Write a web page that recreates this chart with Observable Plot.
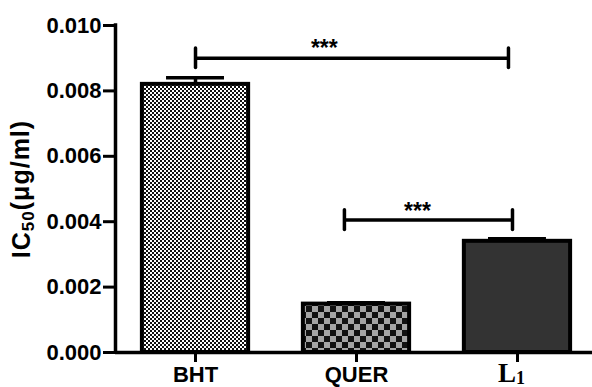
<!DOCTYPE html>
<html>
<head>
<meta charset="utf-8">
<script src="https://cdn.jsdelivr.net/npm/d3@7"></script>
<script src="https://cdn.jsdelivr.net/npm/@observablehq/plot@0.6"></script>
<style>
  html, body { margin: 0; padding: 0; background: #fff; }
</style>
</head>
<body>
<div id="chart"></div>
<script>
// IC50 of the three antioxidants (mean ± SEM)
const groups = ["BHT", "QUER", "L1"];
const ic50 = [0.0082, 0.00148, 0.0034];
const sem = [0.0002, 0.00004, 0.00008];
const yTicks = [0, 0.002, 0.004, 0.006, 0.008, 0.010];

// significance brackets (x in category units, y in µg/ml)
const bracketFrom = [0, 0.925];
const bracketTo = [1.944, 1.969];
const bracketLevel = [0.009, 0.00405];
const starX = [0.80, 1.379];
const starY = [0.00928, 0.00432];
const starText = ["***", "***"];

const bars = groups.map((g, i) => ({i, group: g, mean: ic50[i], err: sem[i]}));
const brackets = bracketFrom.map((x1, k) => ({x1, x2: bracketTo[k], y: bracketLevel[k]}));
const bracketEnds = brackets.flatMap(b => [{x: b.x1, y: b.y}, {x: b.x2, y: b.y}]);
const stars = starText.map((t, k) => ({x: starX[k], y: starY[k], t}));

const fills = {BHT: "url(#chk-fine)", QUER: "url(#chk-coarse)", L1: "#333333"};
const half = 0.33, capHalf = 0.18, endHalf = 0.0003;

const chart = Plot.plot({
  width: 592,
  height: 387,
  marginLeft: 115,
  marginRight: 0,
  marginTop: 25,
  marginBottom: 35,
  x: {domain: [-0.497, 2.466], axis: null},
  y: {domain: [0, 0.010], axis: null},
  style: {fontFamily: "'Liberation Sans', Arial, sans-serif", fontWeight: "bold", background: "#fff", color: "#000", overflow: "visible"},
  marks: [
    ...groups.map(g => Plot.rectY(bars.filter(d => d.group === g), {
      x1: d => d.i - half, x2: d => d.i + half, y1: 0, y2: "mean",
      fill: fills[g], stroke: "#000", strokeWidth: 4
    })),
    Plot.ruleX(bars, {x: "i", y1: "mean", y2: d => d.mean + d.err, strokeWidth: 3.5}),
    Plot.ruleY(bars, {y: d => d.mean + d.err, x1: d => d.i - capHalf, x2: d => d.i + capHalf, strokeWidth: 3.5}),
    Plot.ruleY(brackets, {y: "y", x1: "x1", x2: "x2", strokeWidth: 3.5}),
    Plot.ruleX(bracketEnds, {x: "x", y1: d => d.y - endHalf, y2: d => d.y + endHalf, strokeWidth: 3.5, strokeLinecap: "round"}),
    Plot.text(stars, {x: "x", y: "y", text: "t", fontSize: 23, fontWeight: "bold"}),
    Plot.ruleY([0], {strokeWidth: 3.5}),
    Plot.ruleX([-0.497], {y1: 0, y2: 0.010, strokeWidth: 3.5, strokeLinecap: "square"}),
    Plot.axisY({
      ticks: yTicks, tickFormat: d3.format(".3f"), tickSize: 12, tickPadding: 2,
      strokeWidth: 3, fontSize: 22, fontWeight: "bold",
      label: "IC50(μg/ml)", labelAnchor: "center", labelOffset: 103, labelArrow: "none"
    }),
    Plot.axisX({
      ticks: [0, 1, 2], tickFormat: i => groups[i], tickSize: 10, tickPadding: 4,
      strokeWidth: 3, fontSize: 22, fontWeight: "bold", label: null
    })
  ]
});

const svg = d3.select(chart);

// fill patterns for the checkered bars
const defs = svg.insert("defs", ":first-child");
const fine = defs.append("pattern").attr("id", "chk-fine").attr("patternUnits", "userSpaceOnUse").attr("width", 4).attr("height", 4);
fine.append("rect").attr("width", 4).attr("height", 4).attr("fill", "#fff");
fine.append("rect").attr("width", 2).attr("height", 2).attr("fill", "#111");
fine.append("rect").attr("x", 2).attr("y", 2).attr("width", 2).attr("height", 2).attr("fill", "#111");
const coarse = defs.append("pattern").attr("id", "chk-coarse").attr("patternUnits", "userSpaceOnUse").attr("width", 12).attr("height", 12);
coarse.append("rect").attr("width", 12).attr("height", 12).attr("fill", "#a3a3a3");
coarse.append("rect").attr("width", 6).attr("height", 6).attr("fill", "#111");
coarse.append("rect").attr("x", 6).attr("y", 6).attr("width", 6).attr("height", 6).attr("fill", "#111");

// subscripts in the axis title and the L1 tick label
svg.selectAll("text").filter(function() { return this.textContent.startsWith("IC50"); }).each(function() {
  const t = d3.select(this).attr("font-size", 25).attr("letter-spacing", 1);
  t.text(null);
  t.append("tspan").text("IC");
  t.append("tspan").attr("font-size", 17).attr("dy", "0.2em").text("50");
  t.append("tspan").attr("dy", "-0.2em").text("(μg/ml)");
});
svg.selectAll("text").filter(function() { return this.textContent === "L1"; }).each(function() {
  const t = d3.select(this)
    .attr("font-family", "'Liberation Serif', 'Times New Roman', serif")
    .attr("font-size", 27)
    .attr("dx", -6);
  t.text(null);
  t.append("tspan").attr("dy", -4).text("L");
  t.append("tspan").attr("font-size", 18).attr("dy", "0.12em").text("1");
});

document.getElementById("chart").append(chart);
</script>
</body>
</html>
